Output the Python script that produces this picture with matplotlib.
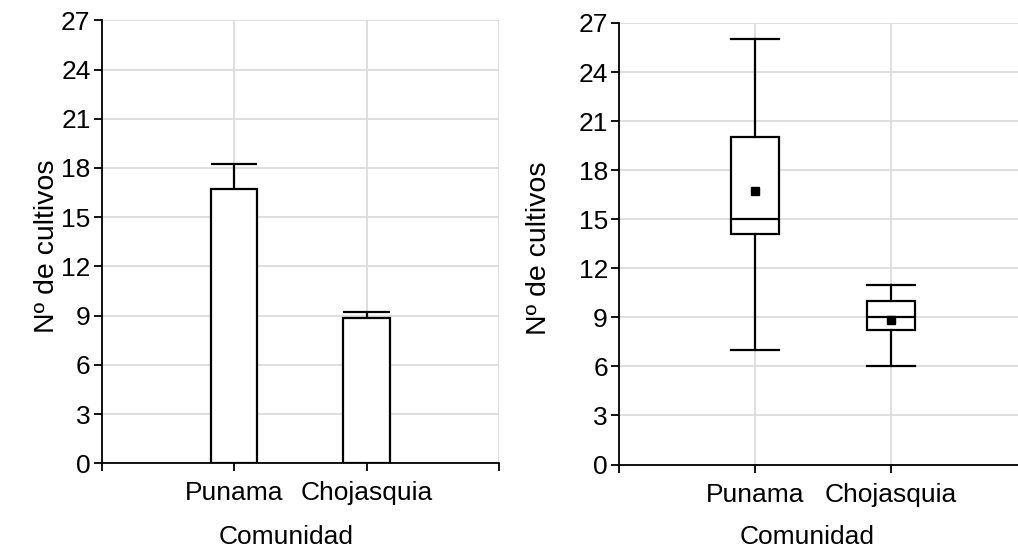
import matplotlib
matplotlib.use("Agg")
import matplotlib.pyplot as plt

plt.rcParams['font.family'] = ['Liberation Sans', 'DejaVu Sans']

categories = ['Punama', 'Chojasquia']
bar_means = [16.7, 8.85]
bar_err = [1.55, 0.40]

box_whislo = [7.0, 6.0]
box_q1 = [14.1, 8.2]
box_med = [15.0, 9.0]
box_q3 = [20.0, 10.0]
box_whishi = [26.0, 11.0]
box_mean = [16.7, 8.85]

yticks = [0, 3, 6, 9, 12, 15, 18, 21, 24, 27]
ylabel = 'Nº de cultivos'
xlabel = 'Comunidad'

W, H = 1018, 552
fig = plt.figure(figsize=(W / 100, H / 100), dpi=100)

def px_axes(x0, x1, ytop, ybot):
    return fig.add_axes([x0 / W, (H - ybot) / H, (x1 - x0) / W, (ybot - ytop) / H])

axL = px_axes(101.7, 499, 20.3, 463.3)
axR = px_axes(619, 1027, 23, 464.5)

grid_c = '#dcdcdc'
tick_fs = 19
for ax in (axL, axR):
    ax.set_xlim(-1, 2)
    ax.set_ylim(0, 27)
    ax.set_yticks(yticks)
    ax.set_xticks([-1, 0, 1, 2])
    ax.set_xticklabels([''] + categories + [''])
    ax.grid(True, color=grid_c, linewidth=1.3, zorder=0)
    ax.set_axisbelow(True)
    for s in ('top', 'right'):
        ax.spines[s].set_visible(False)
    for s in ('left', 'bottom'):
        ax.spines[s].set_linewidth(1.3)
        ax.spines[s].set_color('black')
    ax.tick_params(axis='both', length=5.5, width=1.3, color='black',
                   labelsize=tick_fs, labelcolor='black')
    ax.tick_params(axis='x', pad=7.5)
    ax.tick_params(axis='y', pad=2.5)
    ax.set_ylabel(ylabel, fontsize=20.5)
    ax.set_xlabel(xlabel, fontsize=19)

axL.yaxis.set_label_coords(-0.105, 0.49)
axL.xaxis.set_label_coords(0.463, -0.14)
axR.yaxis.set_label_coords(-0.165, 0.49)
axR.xaxis.set_label_coords(0.46, -0.138)

# Left: bar chart with upward error bars
xpos = list(range(len(categories)))
axL.bar(xpos, bar_means, width=0.35, color='white', edgecolor='black',
        linewidth=1.6, zorder=3)
axL.errorbar(xpos, bar_means, yerr=[[0] * len(bar_err), bar_err], fmt='none',
             ecolor='black', elinewidth=1.6, capsize=0, zorder=2)
for x, m, e in zip(xpos, bar_means, bar_err):
    axL.hlines(m + e, x - 0.175, x + 0.175, color='black', linewidth=1.6, zorder=3)

# Right: box plot
stats = []
for i, c in enumerate(categories):
    stats.append(dict(label=c, whislo=box_whislo[i], q1=box_q1[i], med=box_med[i],
                      q3=box_q3[i], whishi=box_whishi[i], mean=box_mean[i], fliers=[]))
axR.bxp(stats, positions=xpos, widths=0.35, capwidths=0.35, showmeans=True,
        showfliers=False, manage_ticks=False, patch_artist=True,
        boxprops=dict(facecolor='white', edgecolor='black', linewidth=1.6),
        medianprops=dict(color='black', linewidth=1.6),
        whiskerprops=dict(color='black', linewidth=1.6),
        capprops=dict(color='black', linewidth=1.6),
        meanprops=dict(marker='s', markerfacecolor='black', markeredgecolor='black',
                       markersize=6))
axR.set_xticks([-1, 0, 1, 2])
axR.set_xticklabels([''] + categories + [''])

fig.savefig('out.png', dpi=100)
